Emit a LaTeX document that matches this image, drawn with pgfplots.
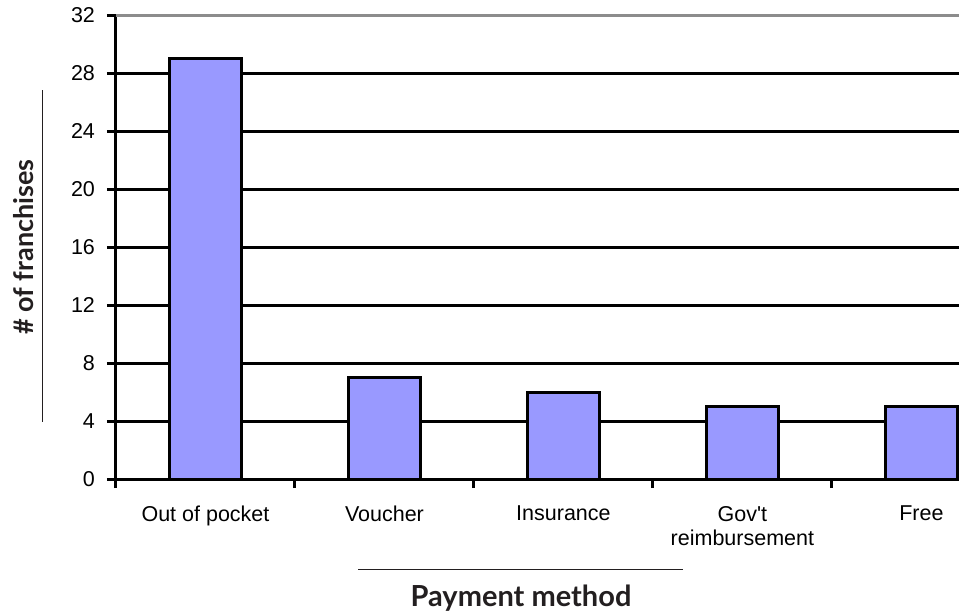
\documentclass[border=0pt]{standalone}
\usepackage{fontspec}
\setmainfont{Liberation Sans}
\newfontfamily\titlefont{Lato}
\usepackage{pgfplots}
\pgfplotsset{compat=1.18}
\definecolor{barfill}{HTML}{9999FF}
\definecolor{titlegray}{HTML}{231F20}
\definecolor{topline}{HTML}{8C8C8C}
\begin{document}
\begin{tikzpicture}
\begin{axis}[
  at={(0pt,0pt)}, anchor=south west,
  scale only axis, width=421.5pt, height=232pt,
  xmin=-0.5, xmax=4.21, ymin=0, ymax=32,
  axis lines*=left,
  axis line style={black, line width=1.5pt},
  ytick={0,4,...,28},
  extra y ticks={32},
  extra y tick style={major grid style={topline, line width=1.5pt}},
  ymajorgrids,
  major grid style={black, line width=1.5pt},
  xtick={-0.5,0.5,1.5,2.5,3.5},
  xticklabels={},
  extra x ticks={0,1,2,3,4},
  extra x tick labels={Out of pocket, Voucher, Insurance, {Gov\textquotesingle t\\reimbursement}, Free},
  extra x tick style={major tick length=0pt, grid=none},
  tick align=outside,
  major tick length=4.5pt,
  tick style={black, line width=1.5pt},
  /pgf/number format/assume math mode=true,
  tick label style={font=\fontsize{10.75}{12}\selectfont, text=black},
  xticklabel style={align=center, yshift=-10pt},
  yticklabel style={xshift=-2.5pt},
  ybar, bar width=36pt,
]
\addplot[fill=barfill, draw=black, line width=1.5pt]
  coordinates {(0,29) (1,7) (2,6) (3,5) (4,5)};
\end{axis}
% axis titles with their rule lines
\node[rotate=90, text=titlegray, font=\titlefont\bfseries\fontsize{13.5}{16}\selectfont]
  at (-46pt,116pt) {\# of franchises};
\draw[titlegray, line width=0.5pt] (-36.5pt,28.5pt) -- (-36.5pt,194.5pt);
\draw[titlegray, line width=0.5pt] (121pt,-45pt) -- (283.5pt,-45pt);
\node[anchor=base, text=titlegray, font=\titlefont\bfseries\fontsize{14.5}{17}\selectfont]
  at (202.5pt,-63.5pt) {Payment method};
\pgfresetboundingbox
\useasboundingbox (-58pt,-68.5pt) rectangle (421.5pt,239.5pt);
\end{tikzpicture}
\end{document}
